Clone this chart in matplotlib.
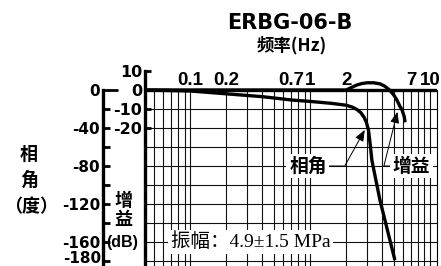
import numpy as np
import matplotlib
matplotlib.use("Agg")
import matplotlib.pyplot as plt
from matplotlib.ticker import LogLocator, FixedLocator, NullFormatter

plt.rcParams['axes.unicode_minus'] = False

# ── dati ─────────────────────────────────────────────────────
phase_freq = [0.042, 0.1, 0.2, 0.4, 0.7, 1.0, 1.5, 2.0, 2.25, 2.46, 2.66, 2.83,
              2.95, 3.07, 3.16, 3.28, 3.83, 5.1]
phase_deg  = [0, -1, -4, -7, -10.5, -12, -14, -16, -18, -20.5, -24, -29,
              -34, -42, -55, -74, -116, -179]

gain_freq = [0.042, 1.0, 2.0, 2.16, 2.45, 2.7, 3.0, 3.4, 3.85, 4.2, 4.6, 4.99,
             5.3, 5.6, 5.85, 6.1, 6.2]
gain_db   = [0, 0, 0, 1.0, 2.6, 3.4, 3.8, 3.8, 3.2, 2.0, 0, -2.6,
             -5.3, -8.4, -10.5, -14, -17]

top_ticks  = [0.1, 0.2, 0.7, 1, 2, 7, 10]
top_labels = ["0.1", "0.2", "0.7", "1", "2", "7", "10"]

gain_ticks  = [10, 0, -10, -20]
phase_major = [0, -40, -80, -120, -160, -180]
phase_minor = [-20, -60, -100, -140]

# ── layout (pixel) ──────────────────────────────────────────
W, H = 441, 266
XLIM = (0.04217, 11.44)
YLIM = (-92.6, 10)
BOLD = "DejaVu Sans"
CJK = ["Noto Sans CJK SC", "DejaVu Sans"]

fig = plt.figure(figsize=(W / 100, H / 100), dpi=100)
ax = fig.add_axes([145 / W, 0, 292 / W, (H - 71) / H])
ax.set_xscale("log")
ax.set_xlim(*XLIM)
ax.set_ylim(*YLIM)

# griglia: verticali solo sotto lo 0 dB
grid_f = [f for f in LogLocator(base=10, subs=np.arange(1, 10)).tick_values(*XLIM)
          if XLIM[0] < f <= 10.001]
ax.vlines(grid_f, YLIM[0], 0, color="#111", lw=0.8, zorder=1)
ax.hlines(np.arange(-10, -100, -10), XLIM[0], XLIM[1], color="#111", lw=0.8, zorder=1)
ax.axhline(0, color="black", lw=2.4, zorder=3)

# curve
ax.plot(phase_freq, np.array(phase_deg) / 2, color="black", lw=2.4,
        solid_capstyle="butt", zorder=4)
ax.plot(gain_freq, gain_db, color="black", lw=2.4, solid_capstyle="butt", zorder=4)

# spine
for s in ["top", "bottom"]:
    ax.spines[s].set_visible(False)
ax.spines["right"].set_bounds(YLIM[0], 0)
ax.spines["right"].set_linewidth(0.8)
ax.spines["left"].set_linewidth(2.4)
ax.xaxis.set_major_locator(FixedLocator([]))
ax.xaxis.set_minor_locator(FixedLocator([]))
ax.set_yticks(gain_ticks)
ax.set_yticklabels([str(v) for v in gain_ticks])
ax.tick_params(axis="y", direction="in", length=4, width=2, pad=2,
               labelsize=11.5, right=False)
for t in ax.get_yticklabels():
    t.set_fontweight("bold")

# etichette frequenza in alto
for f, lab in zip(top_ticks, top_labels):
    ax.text(f, 5.0, lab, ha="center", va="center", fontsize=13.5,
            fontweight="bold", family="Liberation Sans")

# asse fase
ax2 = ax.twinx()
ax2.set_ylim(YLIM[0] * 2, YLIM[1] * 2)
ax2.tick_params(axis="x", which="both", bottom=False, top=False,
                labelbottom=False, labeltop=False)
for s in ["top", "bottom", "right"]:
    ax2.spines[s].set_visible(False)
ax2.spines["left"].set_visible(True)
ax2.spines["left"].set_position(("axes", -42 / 292))
ax2.spines["left"].set_bounds(YLIM[0] * 2, 0)
ax2.spines["left"].set_linewidth(2.4)
ax2.yaxis.set_ticks_position("left")
ax2.yaxis.set_major_locator(FixedLocator(phase_major))
ax2.yaxis.set_minor_locator(FixedLocator(phase_minor))
ax2.yaxis.set_minor_formatter(NullFormatter())
# l'ultima etichetta (-180) va un po' più in alto, come nell'originale
ax2.set_yticklabels([str(v) for v in phase_major[:-1]] + [""])
ax2.tick_params(axis="y", which="both", direction="in", length=5, width=2,
                pad=2, labelsize=11)
for t in ax2.get_yticklabels():
    t.set_fontweight("bold")
ax2.yaxis.get_major_ticks()[0].tick1line.set_markersize(11)
ax2.text(-44 / 292, phase_major[-1] + 2.5, str(phase_major[-1]),
         transform=ax2.get_yaxis_transform(), ha="right", va="center",
         fontsize=11, fontweight="bold")

# annotazioni
box = dict(boxstyle="square,pad=0.15", fc="white", ec="none")
ax.annotate("相角", xy=(2.86, -21), xytext=(0.96, -40), ha="center", va="center",
            fontsize=13.5, fontweight="bold", family=CJK, bbox=box, zorder=6,
            arrowprops=dict(arrowstyle="-|>,head_length=0.5,head_width=0.2",
                            color="black", lw=0.7, shrinkA=0, shrinkB=0,
                            connectionstyle="angle,angleA=0,angleB=61,rad=0"))
ax.annotate("增益", xy=(5.35, -11.5), xytext=(7.0, -40), ha="center", va="center",
            fontsize=13.5, fontweight="bold", family=CJK, bbox=box, zorder=6,
            arrowprops=dict(arrowstyle="-|>,head_length=0.5,head_width=0.2",
                            color="black", lw=0.7, shrinkA=0, shrinkB=0,
                            connectionstyle="angle,angleA=180,angleB=76,rad=0"))
ax.text(0.32, -80, "振幅：4.9±1.5 MPa", ha="center", va="center", fontsize=14,
        family=["Liberation Serif", "Noto Sans CJK SC"], bbox=box, zorder=6)

# titoli ed etichette assi
fig.text(290 / W, 1 - 23 / H, "ERBG-06-B", ha="center", va="center",
         fontsize=15, fontweight="bold", family=BOLD)
fig.text(292 / W, 1 - 45 / H, "频率(Hz)", ha="center", va="center",
         fontsize=12.5, fontweight="bold", family=CJK)
fig.text(29 / W, 1 - 154 / H, "相", ha="center", va="center", fontsize=13,
         fontweight="bold", family=CJK)
fig.text(29 / W, 1 - 180 / H, "角", ha="center", va="center", fontsize=13,
         fontweight="bold", family=CJK)
fig.text(31 / W, 1 - 207 / H, "（度）", ha="center", va="center", fontsize=13,
         fontweight="bold", family=CJK)
fig.text(123 / W, 1 - 200 / H, "增", ha="center", va="center", fontsize=13,
         fontweight="bold", family=CJK)
fig.text(123 / W, 1 - 219 / H, "益", ha="center", va="center", fontsize=13,
         fontweight="bold", family=CJK)
fig.text(122 / W, 1 - 243 / H, "(dB)", ha="center", va="center", fontsize=11.5,
         fontweight="bold", family="Liberation Sans")

fig.savefig("out.png", dpi=100)
